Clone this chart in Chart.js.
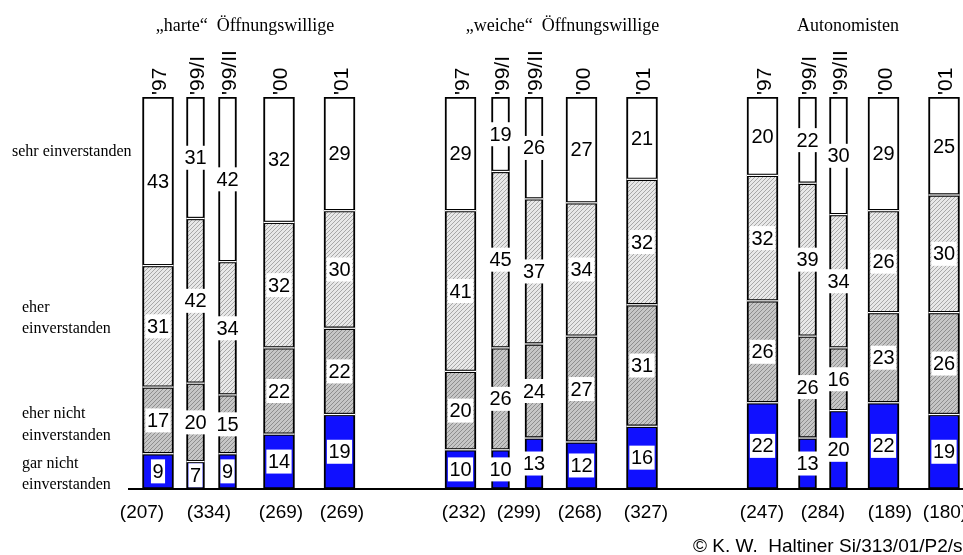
<!DOCTYPE html>
<html>
<head>
<meta charset="utf-8">
<script src="https://cdn.jsdelivr.net/npm/chart.js@4.4.1/dist/chart.umd.min.js"></script>
<style>
html,body{margin:0;padding:0;background:#fff;}
#wrap{width:963px;height:555px;position:relative;}
</style>
</head>
<body>
<div id="wrap"><canvas id="c" width="963" height="555"></canvas></div>
<script>
// ---- data ----
const groups = ['\u201E' + 'harte\u201C  \u00D6ffnungswillige', '\u201E' + 'weiche\u201C  \u00D6ffnungswillige', 'Autonomisten'];
const waves = ["'97", "'99/I", "'99/II", "'00", "'01"];
const answerLabels = ['gar nicht einverstanden', 'eher nicht einverstanden', 'eher einverstanden', 'sehr einverstanden'];
// values per group, per wave (percent)
const garNicht  = [[9, 7, 9, 14, 19], [10, 10, 13, 12, 16], [22, 13, 20, 22, 19]];
const eherNicht = [[17, 20, 15, 22, 22], [20, 26, 24, 27, 31], [26, 26, 16, 23, 26]];
const eher      = [[31, 42, 34, 32, 30], [41, 45, 37, 34, 32], [32, 39, 34, 26, 30]];
const sehr      = [[43, 31, 42, 32, 29], [29, 19, 26, 27, 21], [20, 22, 30, 29, 25]];
const sampleSizes = [['(207)', '(334)', '(269)', '(269)'], ['(232)', '(299)', '(268)', '(327)'], ['(247)', '(284)', '(189)', '(180)']];
const copyright = '\u00A9 K. W.  Haltiner Si/313/01/P2/sn';

// ---- layout (positions on the horizontal axis, in axis units) ----
const barPos = [[158, 195.5, 227.5, 279, 339.5], [460.5, 500.5, 534, 581.5, 642], [762.5, 807.5, 838.5, 883.5, 944]];
const samplePos = [[142, 209, 281, 342], [464, 519, 580, 646], [762, 823, 890, 945]];
const titlePos = [245, 562.5, 848];
const narrowWaves = [1, 2];

const canvas = document.getElementById('c');
const ctx0 = canvas.getContext('2d');
function hatch(bg, line) {
  const c = document.createElement('canvas');
  c.width = 4; c.height = 4;
  const g = c.getContext('2d');
  g.fillStyle = bg; g.fillRect(0, 0, 4, 4);
  g.strokeStyle = line; g.lineWidth = 1;
  g.beginPath();
  g.moveTo(0, 4); g.lineTo(4, 0);
  g.moveTo(-1, 1); g.lineTo(1, -1);
  g.moveTo(3, 5); g.lineTo(5, 3);
  g.stroke();
  return ctx0.createPattern(c, 'repeat');
}
const fills = ['#1010ff', hatch('#c6c6c6', '#8e8e8e'), hatch('#e8e8e8', '#a8a8a8'), '#ffffff'];
const series = [garNicht, eherNicht, eher, sehr];

function pts(values, narrow) {
  const out = [];
  for (let g = 0; g < values.length; g++) {
    for (let w = 0; w < values[g].length; w++) {
      const isN = narrowWaves.includes(w);
      if (isN === narrow) out.push({x: barPos[g][w], y: values[g][w]});
    }
  }
  return out;
}

const datasets = [];
[false, true].forEach(narrow => {
  series.forEach((vals, i) => {
    datasets.push({
      label: answerLabels[i],
      data: pts(vals, narrow),
      backgroundColor: fills[i],
      borderColor: '#000',
      borderWidth: 2,
      borderSkipped: false,
      barThickness: narrow ? 18 : 31,
      stack: 's'
    });
  });
});

const textPlugin = {
  id: 'texts',
  afterDatasetsDraw(chart) {
    const ctx = chart.ctx;
    const yS = chart.scales.y;
    const zero = yS.getPixelForValue(0);
    ctx.save();
    // white separation between stacked segments
    ctx.fillStyle = '#fff';
    chart.data.datasets.forEach((ds, di) => {
      chart.getDatasetMeta(di).data.forEach(el => {
        const p = el.getProps(['x', 'base', 'width'], true);
        if (Math.abs(p.base - zero) > 1) ctx.fillRect(p.x - p.width / 2, p.base - 0.6, p.width, 1.2);
      });
    });
    // baseline
    ctx.strokeStyle = '#000';
    ctx.lineWidth = 2;
    ctx.beginPath();
    ctx.moveTo(128, zero);
    ctx.lineTo(963, zero);
    ctx.stroke();
    // value labels
    ctx.font = '20px "Liberation Sans", Arial, sans-serif';
    ctx.textAlign = 'center';
    ctx.textBaseline = 'middle';
    chart.data.datasets.forEach((ds, di) => {
      const meta = chart.getDatasetMeta(di);
      meta.data.forEach((el, i) => {
        const p = el.getProps(['x', 'y', 'base'], true);
        const cy = (p.y + p.base) / 2;
        const txt = String(ds.data[i].y);
        const w = ctx.measureText(txt).width + 3;
        ctx.fillStyle = '#fff';
        ctx.fillRect(p.x - w / 2, cy - 12, w, 24);
        ctx.fillStyle = '#000';
        ctx.fillText(txt, p.x, cy + 1);
      });
    });
    ctx.restore();
  },
  afterDraw(chart) {
    const ctx = chart.ctx;
    const yS = chart.scales.y;
    const top = yS.getPixelForValue(100);
    ctx.save();
    ctx.fillStyle = '#000';
    // group titles
    ctx.font = '18px "Liberation Serif", "Times New Roman", serif';
    ctx.textAlign = 'center';
    ctx.textBaseline = 'alphabetic';
    groups.forEach((t, g) => ctx.fillText(t, titlePos[g], 31));
    // wave labels (rotated)
    ctx.font = '21px "Liberation Sans", Arial, sans-serif';
    ctx.textAlign = 'left';
    groups.forEach((t, g) => {
      waves.forEach((wv, w) => {
        ctx.save();
        ctx.translate(barPos[g][w] + 8, top - 2);
        ctx.rotate(-Math.PI / 2);
        ctx.fillText(wv, 0, 0);
        ctx.restore();
      });
    });
    // sample sizes
    ctx.font = '19px "Liberation Sans", Arial, sans-serif';
    ctx.textAlign = 'center';
    ctx.textBaseline = 'middle';
    sampleSizes.forEach((row, g) => row.forEach((s, k) => ctx.fillText(s, samplePos[g][k], 513)));
    // answer labels on the left
    ctx.font = '16px "Liberation Serif", "Times New Roman", serif';
    ctx.textAlign = 'left';
    ctx.textBaseline = 'alphabetic';
    ctx.fillText('sehr einverstanden', 12, 156);
    ctx.fillText('eher', 22, 312);
    ctx.fillText('einverstanden', 22, 333);
    ctx.fillText('eher nicht', 22, 418);
    ctx.fillText('einverstanden', 22, 440);
    ctx.fillText('gar nicht', 22, 468);
    ctx.fillText('einverstanden', 22, 489);
    // copyright
    ctx.font = '19px "Liberation Sans", Arial, sans-serif';
    ctx.fillText(copyright, 693, 552);
    ctx.restore();
  }
};

new Chart(canvas, {
  type: 'bar',
  data: {datasets},
  options: {
    responsive: false,
    animation: false,
    devicePixelRatio: 1,
    layout: {padding: {left: 0, right: 0, top: 97, bottom: 66}},
    plugins: {legend: {display: false}, tooltip: {enabled: false}, title: {display: false}},
    scales: {
      x: {type: 'linear', min: 0, max: 963, offset: false, stacked: true, display: false},
      y: {min: 0, max: 100, stacked: true, display: false}
    }
  },
  plugins: [textPlugin]
});
</script>
</body>
</html>
